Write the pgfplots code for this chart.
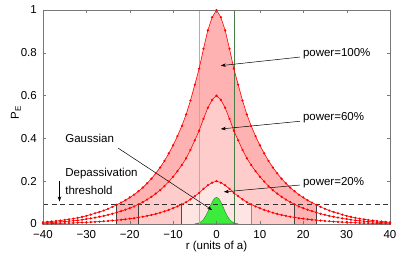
\documentclass[border=0pt]{standalone}
\usepackage{fontspec}
\setmainfont{Liberation Sans}
\usepackage{pgfplots}
\pgfplotsset{compat=1.18}
\usepackage{pgfplotstable}
\usetikzlibrary{arrows.meta}
\definecolor{fillA}{RGB}{255,178,178}
\definecolor{fillB}{RGB}{255,204,204}
\definecolor{fillC}{RGB}{255,228,228}
\definecolor{gfill}{RGB}{60,235,60}
\definecolor{gedge}{RGB}{40,150,40}
\definecolor{gleft}{RGB}{150,198,130}
\definecolor{gright}{RGB}{70,125,70}
\definecolor{frame}{RGB}{120,120,120}

\pgfplotstableread{
r p100 p60 p20
-40 0.008 0.005 0.002
-39 0.010 0.006 0.002
-38 0.012 0.007 0.002
-37 0.014 0.008 0.003
-36 0.016 0.010 0.003
-35 0.019 0.011 0.004
-34 0.022 0.013 0.004
-33 0.025 0.015 0.005
-32 0.029 0.017 0.006
-31 0.033 0.020 0.007
-30 0.038 0.023 0.008
-29 0.044 0.026 0.009
-28 0.050 0.030 0.010
-27 0.056 0.034 0.011
-26 0.063 0.038 0.013
-25 0.071 0.043 0.014
-24 0.080 0.048 0.016
-23 0.090 0.054 0.018
-22 0.100 0.060 0.020
-21 0.111 0.067 0.022
-20 0.124 0.074 0.025
-19 0.137 0.082 0.027
-18 0.153 0.092 0.031
-17 0.170 0.102 0.034
-16 0.190 0.114 0.038
-15 0.212 0.127 0.042
-14 0.237 0.142 0.047
-13 0.264 0.158 0.053
-12 0.295 0.177 0.059
-11 0.330 0.198 0.066
-10 0.368 0.221 0.074
-9 0.411 0.247 0.082
-8 0.458 0.275 0.092
-7 0.512 0.307 0.102
-6 0.577 0.346 0.115
-5 0.651 0.391 0.130
-4 0.726 0.436 0.145
-3 0.819 0.491 0.164
-2 0.905 0.543 0.181
-1 0.966 0.580 0.193
0 1.000 0.600 0.200
1 0.966 0.580 0.193
2 0.905 0.543 0.181
3 0.819 0.491 0.164
4 0.726 0.436 0.145
5 0.651 0.391 0.130
6 0.577 0.346 0.115
7 0.512 0.307 0.102
8 0.458 0.275 0.092
9 0.411 0.247 0.082
10 0.368 0.221 0.074
11 0.330 0.198 0.066
12 0.295 0.177 0.059
13 0.264 0.158 0.053
14 0.237 0.142 0.047
15 0.212 0.127 0.042
16 0.190 0.114 0.038
17 0.170 0.102 0.034
18 0.153 0.092 0.031
19 0.137 0.082 0.027
20 0.124 0.074 0.025
21 0.111 0.067 0.022
22 0.100 0.060 0.020
23 0.090 0.054 0.018
24 0.080 0.048 0.016
25 0.071 0.043 0.014
26 0.063 0.038 0.013
27 0.056 0.034 0.011
28 0.050 0.030 0.010
29 0.044 0.026 0.009
30 0.038 0.023 0.008
31 0.033 0.020 0.007
32 0.029 0.017 0.006
33 0.025 0.015 0.005
34 0.022 0.013 0.004
35 0.019 0.011 0.004
36 0.016 0.010 0.003
37 0.014 0.008 0.003
38 0.012 0.007 0.002
39 0.010 0.006 0.002
40 0.008 0.005 0.002
}\curves

\pgfplotstableread{
r g
-5 0.001
-4.5 0.0024
-4 0.0055
-3.5 0.0114
-3 0.0215
-2.5 0.037
-2 0.057
-1.5 0.081
-1 0.103
-0.5 0.119
0 0.125
0.5 0.119
1 0.103
1.5 0.081
2 0.057
2.5 0.037
3 0.0215
3.5 0.0114
4 0.0055
4.5 0.0024
5 0.001
}\gauss

\begin{document}
\fontsize{11.5}{13.8}\selectfont
\begin{tikzpicture}
\begin{axis}[
  at={(43pt,30pt)}, anchor=south west,
  scale only axis, width=347pt, height=214pt,
  xmin=-40, xmax=40, ymin=0, ymax=1,
  clip=false, axis on top,
  axis line style={frame},
  tick style={frame},
  tick align=inside, major tick length=3pt,
  xtick={-40,-30,-20,-10,0,10,20,30,40},
  xticklabels={−40,−30,−20,−10,0,10,20,30,40},
  ytick={0,0.2,0.4,0.6,0.8,1},
  yticklabels={0,0.2,0.4,0.6,0.8,1},
  xticklabel style={inner sep=0pt, anchor=north, yshift=-6pt},
  yticklabel style={inner sep=0pt, anchor=east, xshift=-6pt},
]
\addplot[fill=fillA, draw=none, restrict x to domain=-23:23] table[x=r,y=p100]{\curves} \closedcycle;
\addplot[fill=fillB, draw=none, restrict x to domain=-18:18] table[x=r,y=p60]{\curves} \closedcycle;
\addplot[fill=fillC, draw=none, restrict x to domain=-8:8] table[x=r,y=p20]{\curves} \closedcycle;
\addplot[fill=gfill, draw=gedge, line width=0.5pt] table[x=r,y=g]{\gauss} \closedcycle;

\addplot[black!75, line width=0.7pt] coordinates {(-23,0) (-23,0.09)};
\addplot[black!75, line width=0.7pt] coordinates {(23,0) (23,0.09)};
\addplot[black!75, line width=0.7pt] coordinates {(-18,0) (-18,0.092)};
\addplot[black!75, line width=0.7pt] coordinates {(18,0) (18,0.092)};
\addplot[black!70, line width=0.7pt] coordinates {(-8,0) (-8,0.092)};
\addplot[black!45, line width=0.7pt] coordinates {(8,0) (8,0.092)};

\addplot[gleft, line width=1.1pt] coordinates {(-4,0) (-4,1)};
\addplot[gright, line width=0.5pt] coordinates {(4,0) (4,1)};

\addplot[red, line width=0.6pt, mark=*, mark size=0.8pt, mark options={fill=red, draw=red}] table[x=r,y=p100]{\curves};
\addplot[red, line width=0.6pt, mark=*, mark size=0.8pt, mark options={fill=red, draw=red}] table[x=r,y=p60]{\curves};
\addplot[red, line width=0.6pt, mark=*, mark size=0.8pt, mark options={fill=red, draw=red}] table[x=r,y=p20]{\curves};

\addplot[black!80, line width=1.1pt, dash pattern=on 5pt off 3.5pt] coordinates {(-40,0.09) (40,0.09)};

\draw[black, line width=0.5pt, -{Stealth[length=5pt,width=3.5pt]}] (axis cs:19.2,0.78) -- (axis cs:1.0,0.74);
\draw[black, line width=0.5pt, -{Stealth[length=5pt,width=3.5pt]}] (axis cs:19.2,0.48) -- (axis cs:1.0,0.444);
\draw[black, line width=0.5pt, -{Stealth[length=5pt,width=3.5pt]}] (axis cs:19.2,0.182) -- (axis cs:1.7,0.15);
\draw[black, line width=0.5pt, -{Stealth[length=5pt,width=3.5pt]}] (axis cs:-22.7,0.355) -- (axis cs:-1,0.065);
\draw[black, line width=0.5pt, -{Stealth[length=5pt,width=3.5pt]}] (axis cs:-36.2,0.2) -- (axis cs:-36.2,0.105);

\node[anchor=west, inner sep=0pt] at (axis cs:19.9,0.795) {power=100\%};
\node[anchor=west, inner sep=0pt] at (axis cs:19.9,0.495) {power=60\%};
\node[anchor=west, inner sep=0pt] at (axis cs:19.9,0.195) {power=20\%};
\node[anchor=west, inner sep=0pt] at (axis cs:-34.9,0.40) {Gaussian};
\node[anchor=west, inner sep=0pt] at (axis cs:-34.9,0.238) {Depassivation};
\node[anchor=west, inner sep=0pt] at (axis cs:-34.9,0.159) {threshold};

\node[anchor=base, inner sep=0pt] at ([yshift=-26pt]rel axis cs:0.5,0) {r (units of a)};
\node[anchor=base, inner sep=0pt, rotate=90] at ([xshift=-24pt]rel axis cs:0,0.52) {P\textsubscript{E}};
\end{axis}
\pgfresetboundingbox
\useasboundingbox (0,0) rectangle (400pt,254pt);
\end{tikzpicture}
\end{document}
